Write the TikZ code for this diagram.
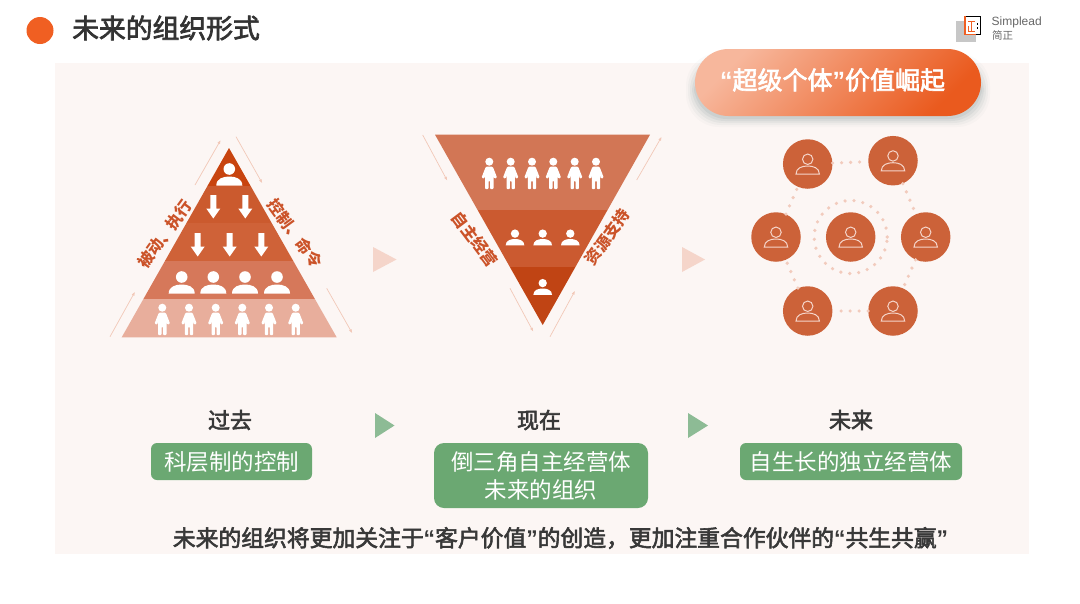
\documentclass[tikz,border=0pt]{standalone}
\usepackage{fontspec}
\setmainfont{Noto Sans CJK SC}
\newfontfamily\medfont[FakeBold=2.5]{Noto Sans CJK SC}
\newfontfamily\latinfont{Liberation Sans}
\usetikzlibrary{arrows.meta, calc}

\definecolor{panelbg}{HTML}{FCF6F4}
\definecolor{brandor}{HTML}{F05F22}
\definecolor{leafgreen}{HTML}{6BA872}
\definecolor{softgreen}{HTML}{8DBB95}
\definecolor{paletri}{HTML}{F5D5CA}
\definecolor{edgeline}{HTML}{F2C8B8}
\definecolor{dotpink}{HTML}{F2CBBD}
\definecolor{rust}{HTML}{CC6239}
\definecolor{sidetext}{HTML}{CB5329}
\definecolor{banda}{HTML}{C8440F}
\definecolor{bandb}{HTML}{CB5A2E}
\definecolor{bandc}{HTML}{CF6238}
\definecolor{bandd}{HTML}{D6785A}
\definecolor{bande}{HTML}{E8AE9C}
\definecolor{invera}{HTML}{D27655}
\definecolor{inverb}{HTML}{CB5A30}
\definecolor{inverc}{HTML}{C04414}
\definecolor{pillfrom}{HTML}{F7B79C}
\definecolor{pillto}{HTML}{EA5A1E}

\newcommand{\openq}{{\latinfont\bfseries “}}
\newcommand{\closeq}{{\latinfont\bfseries ”}}
% head on top of a dome, origin at the top of the dome
\newcommand{\bustmark}[4][fill=white]{%
  \begin{scope}[shift={(#2,#3)}, scale=#4]
    \path[#1] (0,-7.5) circle[radius=5.8];
    \path[#1] (-13,9) .. controls (-13,2) and (-6,0) .. (0,0)
      .. controls (6,0) and (13,2) .. (13,9) -- cycle;
  \end{scope}}
% standing figure, origin at the centre of the head
\newcommand{\standmark}[2]{%
  \begin{scope}[shift={(#1,#2)}]
    \fill[white] (0,0) circle[radius=4];
    \fill[white, rounded corners=1pt] (-3.5,5) -- (3.5,5) -- (7.8,16) -- (5,17) -- (4.2,13.5)
      -- (4.2,27.5) -- (0.8,27.5) -- (0.8,19) -- (-0.8,19) -- (-0.8,27.5) -- (-4.2,27.5)
      -- (-4.2,13.5) -- (-5,17) -- (-7.8,16) -- cycle;
  \end{scope}}
% white arrow pointing down, origin at its top
\newcommand{\downmark}[2]{%
  \fill[white, shift={(#1,#2)}] (-3,0) -- (3,0) -- (3,13.5) -- (7,13.5) -- (0,23.5)
    -- (-7,13.5) -- (-3,13.5) -- cycle;}

\begin{document}
\begin{tikzpicture}[x=1pt, y=-1pt, >={Latex[length=4pt, width=3pt]},
  titletext/.style={font=\medfont\fontsize{26.8}{30}\selectfont, text=black!80, anchor=west, inner sep=0pt},
  stagetext/.style={font=\medfont\fontsize{22}{26}\selectfont, text=black!78, inner sep=0pt},
  greenbox/.style={fill=leafgreen, text=white, rounded corners=6pt, align=center, inner sep=0pt,
    font=\fontsize{22.5}{28}\selectfont},
  sidelabel/.style={font=\fontsize{16}{18}\selectfont\bfseries, text=sidetext, inner sep=0pt},
  edgearrow/.style={->, draw=edgeline, line width=0.7pt},
  personcirc/.style={circle, fill=rust, minimum size=49.5pt, inner sep=0pt},
  dotline/.style={draw=dotpink, line width=3.6pt, line cap=round, dash pattern=on 0pt off 9pt},
  outl/.style={draw=paletri, line width=1pt}]

\useasboundingbox (0,0) rectangle (1080,603);
\fill[panelbg] (55,63) rectangle (1029,554);

% ---- header ----------------------------------------------------------------------
\node[circle, fill=brandor, minimum size=27pt, inner sep=0pt] (dot) at (40,30.5) {};
\node[titletext] (title) at (72,28) {未来的组织形式};

% ---- logo ------------------------------------------------------------------------
\fill[black!22] (955.5,21) rectangle (975.5,42);
\fill[white] (964.5,16) rectangle (981,35);
\draw[black, line width=1.4pt] (965,16.7) -- (980.5,16.7) -- (980.5,34.5) -- (975,34.5);
\draw[brandor, line width=1.6pt] (965,16) -- (965,34.5) -- (975.5,34.5);
\draw[brandor, line width=1pt] (968,21) -- (975,21) (971.5,21) -- (971.5,31) (968,31) -- (975,31) (968,26) -- (968,31);
\draw[black, line width=1pt] (977.5,23) -- (977.5,24.5) (977.5,27) -- (977.5,28.5);
\node[anchor=west, inner sep=0pt, text=black!60, font=\latinfont\fontsize{12}{14}\selectfont] (logoa) at (991.5,22.5) {Simplead};
\node[anchor=west, inner sep=0pt, text=black!60, font=\fontsize{10.5}{12}\selectfont] (logob) at (992,35.5) {简正};

% ---- pyramid ---------------------------------------------------------------------
\begin{scope}
  \clip (229,148) -- (336.7,337.3) -- (121.7,337.3) -- cycle;
  \foreach \ya/\yb/\bandcol in {140/185.7/banda, 185.7/223/bandb, 223/260.7/bandc, 260.7/299.3/bandd, 299.3/340/bande}
    \fill[\bandcol] (100,\ya) rectangle (350,\yb);
\end{scope}
\bustmark{229.3}{176.5}{1}
\foreach \px in {213.3,245.3} {\downmark{\px}{195}}
\foreach \px in {197.7,229.7,261.3} {\downmark{\px}{233}}
\foreach \px in {181.7,213.3,245,277} {\bustmark{\px}{284.5}{1}}
\foreach \px in {162.3,189,215.7,242.3,269,295.7} {\standmark{\px}{307.7}}

\node[sidelabel, rotate=54] (passive) at (165,234) {被动、执行};
\node[sidelabel, rotate=-54] (control) at (295,233) {控制、命令};

\coordinate (pa1) at (195,185);   \coordinate (pa2) at (220.7,140);
\coordinate (pb1) at (110,336.7); \coordinate (pb2) at (135,291.7);
\coordinate (pc1) at (236,136.7); \coordinate (pc2) at (262.3,183.3);
\coordinate (pd1) at (326.7,288.3); \coordinate (pd2) at (352.3,333.3);
\draw[edgearrow] (pa1) -- (pa2);
\draw[edgearrow] (pb1) -- (pb2);
\draw[edgearrow] (pc1) -- (pc2);
\draw[edgearrow] (pd1) -- (pd2);

% ---- inverted triangle -----------------------------------------------------------
\begin{scope}
  \clip (435,134.7) -- (650,134.7) -- (542.7,325) -- cycle;
  \foreach \ya/\yb/\bandcol in {130/210/invera, 210/267.3/inverb, 267.3/330/inverc}
    \fill[\bandcol] (420,\ya) rectangle (660,\yb);
\end{scope}
\foreach \px in {489.3,510.7,532,553.3,574.7,596} {\standmark{\px}{161.7}}
\foreach \px in {515,542.7,570.3} {\bustmark{\px}{239}{0.72}}
\bustmark{542.7}{288.5}{0.72}

\node[sidelabel, rotate=-53] (selfrun) at (475,239.3) {自主经营};
\node[sidelabel, rotate=55] (support) at (607.3,236.7) {资源支持};

\coordinate (qa1) at (422.7,135); \coordinate (qa2) at (447.3,180.7);
\coordinate (qb1) at (510,288.3); \coordinate (qb2) at (533.3,331.7);
\coordinate (qc1) at (550,336.7); \coordinate (qc2) at (575,290.7);
\coordinate (qd1) at (636.7,180); \coordinate (qd2) at (661.7,136.7);
\draw[edgearrow] (qa1) -- (qa2);
\draw[edgearrow] (qb1) -- (qb2);
\draw[edgearrow] (qc1) -- (qc2);
\draw[edgearrow] (qd1) -- (qd2);

% ---- people in a ring ------------------------------------------------------------
\node[personcirc] (topl) at (807.7,164) {};
\node[personcirc] (topr) at (893,160.7) {};
\node[personcirc] (midl) at (776,237) {};
\node[personcirc] (midc) at (850.7,237) {};
\node[personcirc] (midr) at (925.7,237) {};
\node[personcirc] (botl) at (807.7,311) {};
\node[personcirc] (botr) at (893,311) {};

\draw[dotline] (topl) -- (topr);
\draw[dotline] (topr) -- (midr);
\draw[dotline] (midr) -- (botr);
\draw[dotline] (botr) -- (botl);
\draw[dotline] (botl) -- (midl);
\draw[dotline] (midl) -- (topl);
\node[circle, dotline, minimum size=73pt, inner sep=0pt] (ring) at (midc) {};

\foreach \px/\py in {807.7/166, 893/162.7, 776/239, 850.7/239, 925.7/239, 807.7/313, 893/313} {
  \bustmark[outl]{\px}{\py}{0.9}
}

% ---- pill ------------------------------------------------------------------------
\foreach \growby/\shadeop in {9/0.02, 7/0.03, 5/0.04, 3/0.05, 1/0.06}
  \fill[black!60!teal, opacity=\shadeop, rounded corners=33pt]
    (695-\growby,62-\growby) rectangle (981+\growby,118+\growby);
\node[minimum width=286pt, minimum height=67pt, rounded corners=33.5pt, inner sep=0pt,
  top color=pillfrom, bottom color=pillto, shading angle=45] (pill) at (838,82.5) {};
\node[text=white, inner sep=0pt, font=\medfont\fontsize{25}{28}\selectfont] (pilltext) at (832.5,80)
  {\openq 超级个体\closeq 价值崛起};

% ---- pale triangles --------------------------------------------------------------
\fill[paletri] (373,247) -- (396.5,259.5) -- (373,272) -- cycle;
\fill[paletri] (682,247) -- (705,259.5) -- (682,272) -- cycle;

% ---- the three stages ------------------------------------------------------------
\node[stagetext] (past) at (230,420) {过去};
\node[stagetext] (now) at (539,420) {现在};
\node[stagetext] (future) at (851,420) {未来};
\node[greenbox, minimum width=161pt, minimum height=37pt] (pastbox) at (231.5,461.5) {科层制的控制};
\node[greenbox, minimum width=214pt, minimum height=65pt, rounded corners=10pt] (nowbox) at (541,475.5) {倒三角自主经营体\\未来的组织};
\node[greenbox, minimum width=222pt, minimum height=37pt] (futurebox) at (851,461.5) {自生长的独立经营体};

\fill[softgreen] (375,413) -- (394.5,425.5) -- (375,438) -- cycle;
\fill[softgreen] (688,413) -- (708,425.5) -- (688,438) -- cycle;

\node[inner sep=0pt, text=black!78, font=\medfont\fontsize{22.8}{26}\selectfont] (closing) at (560.5,538)
  {未来的组织将更加关注于\openq 客户价值\closeq 的创造，更加注重合作伙伴的\openq 共生共赢\closeq};

\end{tikzpicture}
\end{document}
